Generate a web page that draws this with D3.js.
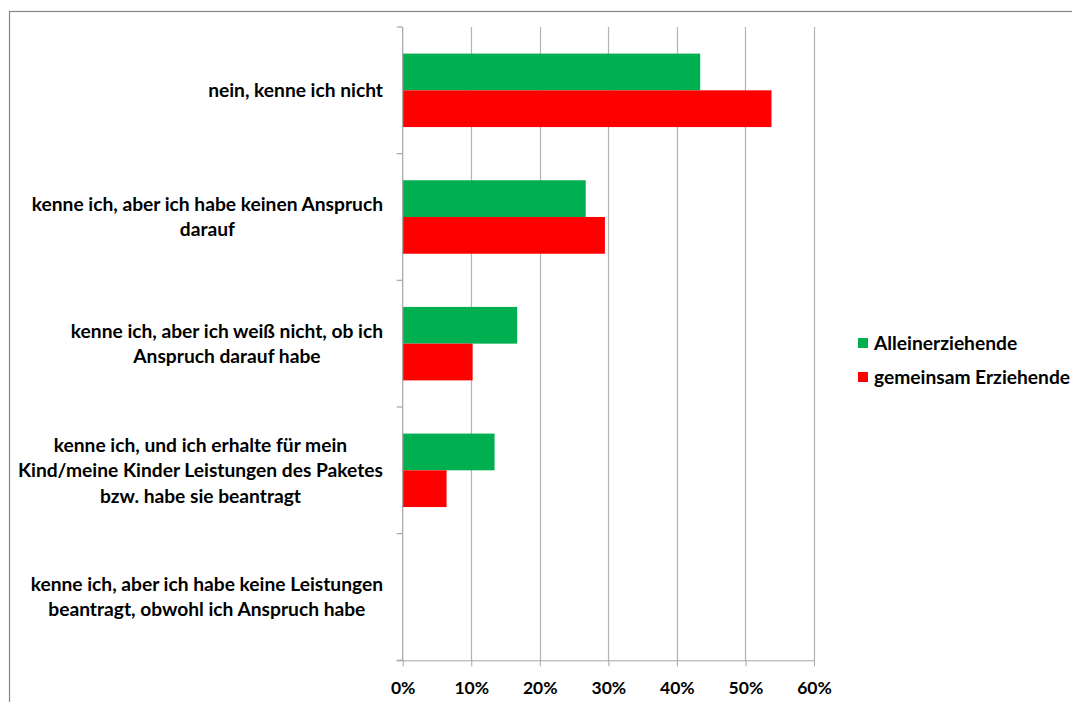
<!DOCTYPE html>
<html><head><meta charset="utf-8">
<script src="https://cdn.jsdelivr.net/npm/d3@7"></script>
<style>body{margin:0;background:#fff;} svg{display:block;}</style>
</head><body>
<script>
const categories = [
  ["nein, kenne ich nicht"],
  ["kenne ich, aber ich habe keinen Anspruch", "darauf"],
  ["kenne ich, aber ich weiß nicht, ob ich", "Anspruch darauf habe"],
  ["kenne ich, und ich erhalte für mein", "Kind/meine Kinder Leistungen des Paketes", "bzw. habe sie beantragt"],
  ["kenne ich, aber ich habe keine Leistungen", "beantragt, obwohl ich Anspruch habe"]
];
const seriesNames = ["Alleinerziehende", "gemeinsam Erziehende"];
const alleinerziehende = [43.4, 26.7, 16.7, 13.4, 0];
const gemeinsam = [53.8, 29.5, 10.2, 6.4, 0];
const xTicks = [0, 10, 20, 30, 40, 50, 60];
const colors = ["#00B050", "#FF0000"];

(function () {
const W = 1072, H = 702;
const svg = d3.select("body").append("svg").attr("width", W).attr("height", H);
const font = "Lato, 'Open Sans', sans-serif";

// outer chart border
svg.append("rect").attr("x", 9.5).attr("y", 11.5).attr("width", 1200).attr("height", 900)
  .attr("fill", "none").attr("stroke", "#868686").attr("stroke-width", 1.2);

const pL = 402.7, pR = 814, pT = 27, pB = 660.3;
const x = d3.scaleLinear().domain([0, 60]).range([pL, pR]);
const idx = d3.range(categories.length);
const y = d3.scaleBand().domain(idx).range([pT, pB]).paddingInner(0.42).paddingOuter(0.21);
const ySub = d3.scaleBand().domain([0, 1]).range([0, y.bandwidth()]);

// gridlines
svg.append("g").selectAll("line").data(xTicks.slice(1)).join("line")
  .attr("x1", d => Math.round(x(d)) + 0.5).attr("x2", d => Math.round(x(d)) + 0.5)
  .attr("y1", pT).attr("y2", pB)
  .attr("stroke", "#B3B3B3").attr("stroke-width", 1.2);

// bars
const data = [alleinerziehende, gemeinsam];
data.forEach((vals, s) => {
  svg.append("g").selectAll("rect").data(vals).join("rect")
    .attr("x", x(0))
    .attr("y", (d, i) => y(i) + ySub(s))
    .attr("width", d => x(d) - x(0))
    .attr("height", ySub.bandwidth())
    .attr("fill", colors[s]);
});

// x axis
const xAxis = d3.axisBottom(x).tickValues(xTicks).tickFormat(d => d + "%").tickSize(6).tickSizeOuter(0);
const gx = svg.append("g").attr("transform", `translate(0,${pB})`).call(xAxis);
gx.select(".domain").attr("stroke", "#A6A6A6").attr("d", `M${pL - 6},0.5H${pR}`);
gx.selectAll(".tick line").attr("stroke", "#A6A6A6");
gx.selectAll(".tick text").attr("font-family", font).attr("font-weight", "bold")
  .attr("font-size", 17.5).attr("fill", "#000").attr("dy", "0.71em").attr("y", 21);

// y axis: category boundary ticks
const boundaries = d3.range(categories.length + 1).map(i => pT + i * y.step());
svg.append("line").attr("x1", pL).attr("x2", pL).attr("y1", pT).attr("y2", pB)
  .attr("stroke", "#A6A6A6").attr("stroke-width", 1.2);
svg.append("g").selectAll("line").data(boundaries).join("line")
  .attr("x1", pL - 6).attr("x2", pL).attr("y1", d => d).attr("y2", d => d)
  .attr("stroke", "#A6A6A6").attr("stroke-width", 1.2);

// category labels
const labelRight = 383, lineH = 25.5;
categories.forEach((lines, i) => {
  const g = svg.append("g");
  const cy = y(i) + y.bandwidth() / 2;
  const texts = lines.map((t, k) => g.append("text").text(t)
    .attr("font-family", font).attr("font-weight", "bold").attr("font-size", 19.2)
    .attr("fill", "#000").attr("text-anchor", "middle")
    .attr("y", cy + (k - (lines.length - 1) / 2) * lineH).attr("dy", "0.35em"));
  const maxW = d3.max(texts, t => t.node().getComputedTextLength());
  texts.forEach(t => t.attr("x", labelRight - maxW / 2));
});

// legend
const legend = svg.append("g");
seriesNames.forEach((n, s) => {
  const ly = 343 + s * 34;
  legend.append("rect").attr("x", 858).attr("y", ly - 5).attr("width", 10).attr("height", 10).attr("fill", colors[s]);
  legend.append("text").text(n).attr("x", 874).attr("y", ly).attr("dy", "0.35em")
    .attr("font-family", font).attr("font-weight", "bold").attr("font-size", 19.2).attr("fill", "#000");
});
})();
</script>
</body></html>
